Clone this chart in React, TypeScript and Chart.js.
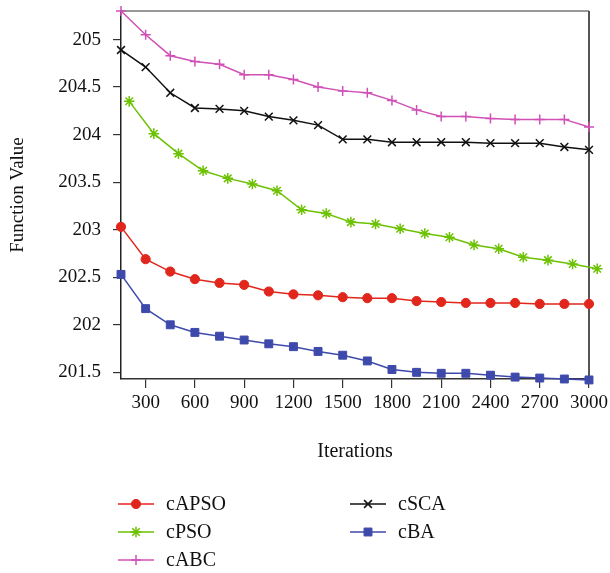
import React, { useEffect, useRef } from "react";
import { Chart, registerables } from "chart.js";

Chart.register(...registerables);

const itersMain = [150, 300, 450, 600, 750, 900, 1050, 1200, 1350, 1500, 1650, 1800, 1950, 2100, 2250, 2400, 2550, 2700, 2850, 3000];
const itersPSO = [200, 350, 500, 650, 800, 950, 1100, 1250, 1400, 1550, 1700, 1850, 2000, 2150, 2300, 2450, 2600, 2750, 2900, 3050];

const cAPSO = [203.03, 202.69, 202.56, 202.48, 202.44, 202.42, 202.35, 202.32, 202.31, 202.29, 202.28, 202.28, 202.25, 202.24, 202.23, 202.23, 202.23, 202.22, 202.22, 202.22];
const cPSO = [204.35, 204.01, 203.8, 203.62, 203.54, 203.48, 203.41, 203.21, 203.17, 203.08, 203.06, 203.01, 202.96, 202.92, 202.84, 202.8, 202.71, 202.68, 202.64, 202.59];
const cABC = [205.3, 205.05, 204.83, 204.77, 204.74, 204.63, 204.63, 204.58, 204.5, 204.46, 204.44, 204.36, 204.26, 204.19, 204.19, 204.17, 204.16, 204.16, 204.16, 204.08];
const cSCA = [204.89, 204.71, 204.44, 204.28, 204.27, 204.25, 204.19, 204.15, 204.1, 203.95, 203.95, 203.92, 203.92, 203.92, 203.92, 203.91, 203.91, 203.91, 203.87, 203.84];
const cBA = [202.53, 202.17, 202.0, 201.92, 201.88, 201.84, 201.8, 201.77, 201.72, 201.68, 201.62, 201.53, 201.5, 201.49, 201.49, 201.47, 201.45, 201.44, 201.43, 201.42];

const xTicks = [300, 600, 900, 1200, 1500, 1800, 2100, 2400, 2700, 3000];
const yTicks = [201.5, 202, 202.5, 203, 203.5, 204, 204.5, 205];

const FONT = "'Liberation Serif', 'DejaVu Serif', serif";

const toPts = (xs: number[], ys: number[]) => ys.map((y, i) => ({ x: xs[i], y }));

// legend layout: [column, row]
const legendSlots = [
  [0, 0],
  [0, 1],
  [0, 2],
  [1, 0],
  [1, 1],
];

function drawMarker(ctx: CanvasRenderingContext2D, style: string, r: number, x: number, y: number) {
  ctx.beginPath();
  if (style === "circle") {
    ctx.arc(x, y, r, 0, Math.PI * 2);
    ctx.fill();
    ctx.stroke();
  } else if (style === "rect") {
    const s = Math.SQRT1_2 * r;
    ctx.rect(x - s, y - s, 2 * s, 2 * s);
    ctx.fill();
    ctx.stroke();
  } else if (style === "cross") {
    ctx.moveTo(x, y - r);
    ctx.lineTo(x, y + r);
    ctx.moveTo(x - r, y);
    ctx.lineTo(x + r, y);
    ctx.stroke();
  } else if (style === "crossRot") {
    const d = Math.SQRT1_2 * r;
    ctx.moveTo(x - d, y - d);
    ctx.lineTo(x + d, y + d);
    ctx.moveTo(x - d, y + d);
    ctx.lineTo(x + d, y - d);
    ctx.stroke();
  } else if (style === "star") {
    const d = Math.SQRT1_2 * r;
    ctx.moveTo(x, y - r);
    ctx.lineTo(x, y + r);
    ctx.moveTo(x - r, y);
    ctx.lineTo(x + r, y);
    ctx.moveTo(x - d, y - d);
    ctx.lineTo(x + d, y + d);
    ctx.moveTo(x - d, y + d);
    ctx.lineTo(x + d, y - d);
    ctx.stroke();
  }
}

const legendPlugin = {
  id: "colLegend",
  afterDraw(chart: any) {
    const ctx = chart.ctx;
    const ca = chart.chartArea;
    const colX = [ca.left - 3, ca.left + 229];
    const rowY0 = ca.bottom + 125;
    const rowGap = 28;
    ctx.save();
    chart.data.datasets.forEach((ds: any, i: number) => {
      const [c, r] = legendSlots[i];
      const x0 = colX[c];
      const y = rowY0 + r * rowGap;
      ctx.strokeStyle = ds.borderColor;
      ctx.lineWidth = 1.5;
      ctx.beginPath();
      ctx.moveTo(x0, y);
      ctx.lineTo(x0 + 36, y);
      ctx.stroke();
      ctx.fillStyle = ds.pointBackgroundColor;
      ctx.strokeStyle = ds.pointBorderColor;
      ctx.lineWidth = ds.pointBorderWidth;
      drawMarker(ctx, ds.pointStyle, ds.pointRadius, x0 + 18, y);
      ctx.fillStyle = "#111";
      ctx.font = "20px " + FONT;
      ctx.textAlign = "left";
      ctx.textBaseline = "middle";
      ctx.fillText(ds.label, x0 + 48, y + 1);
    });
    ctx.restore();
  },
};

// draw the frame (top and right sides) and allow points just past the right edge to be drawn
const framePlugin = {
  id: "frame",
  beforeDatasetsDraw(chart: any) {
    const { ctx, chartArea: ca } = chart;
    ctx.save();
    ctx.strokeStyle = "#333";
    ctx.lineWidth = 1.2;
    ctx.beginPath();
    ctx.moveTo(ca.left, ca.top);
    ctx.lineTo(ca.right, ca.top);
    ctx.stroke();
    ctx.strokeStyle = "#555";
    ctx.lineWidth = 2;
    ctx.beginPath();
    ctx.moveTo(ca.right, ca.top);
    ctx.lineTo(ca.right, ca.bottom);
    ctx.stroke();
    ctx.restore();
    chart.$savedRight = ca.right;
    ca.right = chart.width;
  },
  afterDatasetsDraw(chart: any) {
    if (chart.$savedRight !== undefined) {
      chart.chartArea.right = chart.$savedRight;
    }
  },
};

export default function App() {
  const ref = useRef<HTMLCanvasElement>(null);
  useEffect(() => {
    document.body.style.margin = "0";
    const mk = (label: string, xs: number[], ys: number[], color: string, style: string, radius: number, fill: boolean) => ({
      label,
      data: toPts(xs, ys),
      borderColor: color,
      backgroundColor: color,
      pointBackgroundColor: fill ? color : "rgba(0,0,0,0)",
      pointBorderColor: color,
      pointBorderWidth: fill ? 1 : 1.5,
      pointStyle: style,
      pointRadius: radius,
      pointHoverRadius: radius,
      borderWidth: 1.5,
      tension: 0,
      clip: false,
    });
    const chart = new Chart(ref.current!, {
      type: "line",
      data: {
        datasets: [
          mk("cAPSO", itersMain, cAPSO, "#e1261c", "circle", 4.6, true),
          mk("cPSO", itersPSO, cPSO, "#6cc100", "star", 5.3, false),
          mk("cABC", itersMain, cABC, "#d050b6", "cross", 5, false),
          mk("cSCA", itersMain, cSCA, "#111111", "crossRot", 5.5, false),
          mk("cBA", itersMain, cBA, "#3e4aab", "rect", 5.6, true),
        ] as any,
      },
      plugins: [framePlugin, legendPlugin],
      options: {
        animation: false,
        responsive: false,
        maintainAspectRatio: false,
        layout: { padding: { left: 0, right: 21, top: 11, bottom: 109 } },
        plugins: { legend: { display: false }, tooltip: { enabled: false } },
        scales: {
          x: {
            type: "linear",
            min: 150,
            max: 3000,
            afterBuildTicks: (s: any) => {
              s.ticks = xTicks.map((v) => ({ value: v }));
            },
            afterFit: (s: any) => {
              s.height = 85;
              s.paddingLeft = 0;
              s.paddingRight = 0;
            },
            grid: { drawOnChartArea: false, drawTicks: true, tickLength: 9, color: "#333", lineWidth: 1.2 },
            border: { display: true, color: "#333", width: 1.5 },
            ticks: { color: "#111", font: { family: FONT, size: 19 }, padding: 4, maxRotation: 0, autoSkip: false, callback: (v: any) => String(v) },
            title: { display: true, text: "Iterations", color: "#111", font: { family: FONT, size: 20 }, padding: { top: 0, bottom: 0 } },
          },
          y: {
            type: "linear",
            min: 201.43,
            max: 205.3,
            afterBuildTicks: (s: any) => {
              s.ticks = yTicks.map((v) => ({ value: v }));
            },
            afterFit: (s: any) => {
              s.width = 121;
              s.paddingTop = 0;
              s.paddingBottom = 0;
            },
            grid: { drawOnChartArea: false, drawTicks: true, tickLength: 8, color: "#333", lineWidth: 1.2 },
            border: { display: true, color: "#222", width: 1.5 },
            ticks: { color: "#111", font: { family: FONT, size: 19 }, padding: 12, callback: (v: any) => String(v) },
            title: { display: true, text: "Function Value", color: "#111", font: { family: FONT, size: 19 }, padding: { top: 7, bottom: 0 } },
          },
        },
      },
    });
    return () => chart.destroy();
  }, []);
  return <canvas ref={ref} width={610} height={573} style={{ display: "block" }} />;
}
